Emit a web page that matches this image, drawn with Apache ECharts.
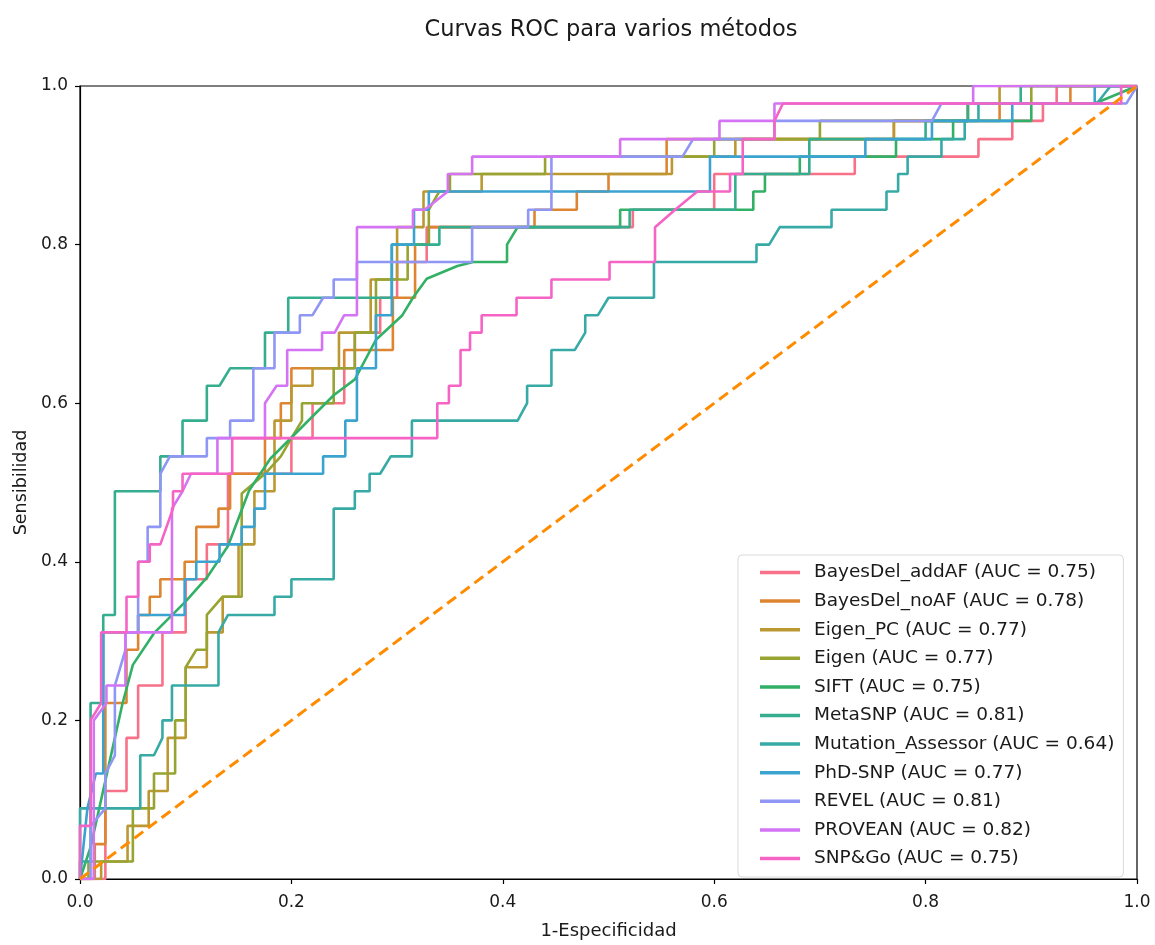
<!DOCTYPE html>
<html>
<head>
<meta charset="utf-8">
<script src="https://cdn.jsdelivr.net/npm/echarts@6/dist/echarts.min.js"></script>
<style>
html,body{margin:0;padding:0;background:#fff;}
#chart{width:1155px;height:945px;}
</style>
</head>
<body>
<div id="chart"></div>
<script>
// ---- data: (fpr, tpr) vertices ----
const methods = ['BayesDel_addAF','BayesDel_noAF','Eigen_PC','Eigen','SIFT','MetaSNP','Mutation_Assessor','PhD-SNP','REVEL','PROVEAN','SNP&Go'];
const aucs = ['0.75','0.78','0.77','0.77','0.75','0.81','0.64','0.77','0.81','0.82','0.75'];
const colors = ['#f77189','#de8532','#bb9832','#97a431','#32b166','#35ad8f','#37aaa6','#3ba3d0','#8f96f4','#d474f4','#f564c4'];

const rocBayesDelAddAF = [[0,0],[0.024,0],[0.024,0.111],[0.044,0.111],[0.044,0.178],[0.055,0.178],[0.055,0.244],[0.078,0.244],[0.078,0.311],[0.1,0.311],[0.1,0.378],[0.12,0.378],[0.12,0.422],[0.14,0.422],[0.14,0.511],[0.2,0.511],[0.2,0.556],[0.22,0.556],[0.22,0.6],[0.25,0.6],[0.25,0.644],[0.26,0.644],[0.26,0.689],[0.284,0.689],[0.284,0.733],[0.3,0.733],[0.3,0.778],[0.328,0.778],[0.328,0.822],[0.523,0.822],[0.523,0.844],[0.6,0.844],[0.6,0.889],[0.733,0.889],[0.733,0.911],[0.85,0.911],[0.85,0.933],[0.882,0.933],[0.882,0.956],[0.911,0.956],[0.911,0.978],[0.924,0.978],[0.924,1],[1,1]];
const rocBayesDelNoAF = [[0,0],[0.014,0],[0.014,0.044],[0.024,0.044],[0.024,0.222],[0.044,0.222],[0.044,0.289],[0.055,0.289],[0.055,0.333],[0.066,0.333],[0.066,0.356],[0.076,0.356],[0.076,0.378],[0.099,0.378],[0.099,0.4],[0.11,0.4],[0.11,0.444],[0.131,0.444],[0.131,0.467],[0.142,0.467],[0.142,0.511],[0.175,0.511],[0.175,0.556],[0.19,0.556],[0.19,0.6],[0.2,0.6],[0.2,0.644],[0.25,0.644],[0.25,0.667],[0.296,0.667],[0.296,0.733],[0.317,0.733],[0.317,0.8],[0.33,0.8],[0.33,0.822],[0.43,0.822],[0.43,0.844],[0.47,0.844],[0.47,0.867],[0.5,0.867],[0.5,0.889],[0.555,0.889],[0.555,0.933],[0.77,0.933],[0.77,0.956],[0.87,0.956],[0.87,0.978],[0.937,0.978],[0.937,1],[1,1]];
const rocEigenPC = [[0,0],[0.02,0],[0.02,0.022],[0.045,0.022],[0.045,0.067],[0.065,0.067],[0.065,0.111],[0.083,0.111],[0.083,0.178],[0.1,0.178],[0.1,0.267],[0.12,0.267],[0.12,0.311],[0.135,0.311],[0.135,0.356],[0.15,0.356],[0.15,0.422],[0.165,0.422],[0.165,0.489],[0.184,0.489],[0.184,0.578],[0.2,0.578],[0.2,0.622],[0.22,0.622],[0.22,0.644],[0.245,0.644],[0.245,0.689],[0.275,0.689],[0.275,0.756],[0.3,0.756],[0.3,0.822],[0.325,0.822],[0.325,0.867],[0.38,0.867],[0.38,0.889],[0.56,0.889],[0.56,0.911],[0.62,0.911],[0.62,0.933],[0.77,0.933],[0.77,0.956],[0.84,0.956],[0.84,0.978],[0.87,0.978],[0.87,1],[1,1]];
const rocEigen = [[0,0],[0.008,0],[0.008,0.022],[0.05,0.022],[0.05,0.089],[0.07,0.089],[0.07,0.133],[0.09,0.133],[0.09,0.2],[0.1,0.2],[0.1,0.267],[0.11,0.289],[0.12,0.289],[0.12,0.333],[0.135,0.356],[0.153,0.356],[0.153,0.486],[0.175,0.511],[0.19,0.533],[0.2,0.556],[0.21,0.578],[0.21,0.6],[0.24,0.6],[0.24,0.644],[0.26,0.644],[0.26,0.689],[0.28,0.689],[0.28,0.756],[0.31,0.756],[0.31,0.8],[0.33,0.8],[0.33,0.844],[0.34,0.867],[0.35,0.867],[0.35,0.889],[0.44,0.889],[0.44,0.911],[0.6,0.911],[0.6,0.933],[0.7,0.933],[0.7,0.956],[0.84,0.956],[0.84,0.978],[0.9,0.978],[0.9,1],[1,1]];
const rocSIFT = [[0,0],[0.01,0.04],[0.02,0.1],[0.03,0.16],[0.04,0.22],[0.05,0.27],[0.07,0.31],[0.1,0.35],[0.12,0.38],[0.14,0.42],[0.16,0.49],[0.18,0.53],[0.21,0.57],[0.24,0.61],[0.26,0.63],[0.28,0.68],[0.305,0.711],[0.315,0.733],[0.328,0.757],[0.357,0.773],[0.372,0.778],[0.404,0.778],[0.404,0.8],[0.414,0.822],[0.511,0.822],[0.511,0.844],[0.637,0.844],[0.637,0.867],[0.648,0.867],[0.648,0.889],[0.681,0.889],[0.681,0.911],[0.772,0.911],[0.772,0.933],[0.826,0.933],[0.826,0.956],[0.9,0.956],[0.9,0.978],[0.96,0.978],[1,1]];
const rocMetaSNP = [[0,0],[0,0.022],[0.01,0.022],[0.01,0.222],[0.022,0.222],[0.022,0.333],[0.033,0.333],[0.033,0.489],[0.076,0.489],[0.076,0.533],[0.097,0.533],[0.097,0.578],[0.12,0.578],[0.12,0.622],[0.132,0.622],[0.142,0.644],[0.175,0.644],[0.175,0.689],[0.197,0.689],[0.197,0.733],[0.262,0.733],[0.295,0.733],[0.295,0.8],[0.34,0.8],[0.34,0.822],[0.52,0.822],[0.52,0.844],[0.62,0.844],[0.62,0.889],[0.69,0.889],[0.69,0.933],[0.8,0.933],[0.8,0.956],[0.84,0.956],[0.84,0.978],[0.89,0.978],[0.89,1],[1,1]];
const rocMutationAssessor = [[0,0],[0,0.089],[0.057,0.089],[0.057,0.156],[0.07,0.156],[0.078,0.178],[0.078,0.2],[0.087,0.2],[0.087,0.244],[0.131,0.244],[0.131,0.311],[0.14,0.333],[0.184,0.333],[0.184,0.356],[0.2,0.356],[0.2,0.378],[0.24,0.378],[0.24,0.467],[0.26,0.467],[0.26,0.489],[0.274,0.489],[0.274,0.511],[0.284,0.511],[0.294,0.533],[0.314,0.533],[0.314,0.578],[0.414,0.578],[0.423,0.6],[0.423,0.622],[0.446,0.622],[0.446,0.667],[0.468,0.667],[0.478,0.689],[0.478,0.711],[0.49,0.711],[0.5,0.733],[0.543,0.733],[0.543,0.778],[0.64,0.778],[0.64,0.8],[0.652,0.8],[0.662,0.822],[0.711,0.822],[0.711,0.844],[0.763,0.844],[0.763,0.867],[0.774,0.867],[0.774,0.889],[0.783,0.889],[0.783,0.911],[0.815,0.911],[0.815,0.933],[0.837,0.933],[0.837,0.956],[0.85,0.956],[0.85,0.978],[0.962,0.978],[0.975,1],[1,1]];
const rocPhDSNP = [[0,0],[0.007,0.089],[0.015,0.133],[0.022,0.133],[0.022,0.311],[0.055,0.311],[0.055,0.333],[0.099,0.333],[0.099,0.378],[0.11,0.378],[0.11,0.4],[0.132,0.4],[0.132,0.422],[0.153,0.422],[0.153,0.444],[0.165,0.444],[0.165,0.467],[0.175,0.467],[0.175,0.511],[0.23,0.511],[0.23,0.533],[0.251,0.533],[0.251,0.578],[0.262,0.578],[0.262,0.644],[0.28,0.644],[0.28,0.711],[0.295,0.711],[0.295,0.8],[0.316,0.8],[0.316,0.844],[0.33,0.844],[0.33,0.867],[0.596,0.867],[0.596,0.911],[0.743,0.911],[0.743,0.933],[0.806,0.933],[0.806,0.956],[0.882,0.956],[0.882,0.978],[0.96,0.978],[0.96,1],[1,1]];
const rocREVEL = [[0,0],[0.01,0],[0.01,0.067],[0.024,0.089],[0.024,0.133],[0.033,0.156],[0.033,0.244],[0.043,0.289],[0.043,0.311],[0.055,0.311],[0.055,0.4],[0.064,0.4],[0.064,0.444],[0.076,0.444],[0.076,0.511],[0.085,0.533],[0.12,0.533],[0.12,0.556],[0.142,0.556],[0.142,0.578],[0.164,0.578],[0.164,0.644],[0.184,0.644],[0.184,0.689],[0.208,0.689],[0.208,0.711],[0.22,0.711],[0.23,0.733],[0.24,0.733],[0.24,0.756],[0.262,0.756],[0.262,0.778],[0.371,0.778],[0.371,0.822],[0.424,0.822],[0.424,0.844],[0.446,0.844],[0.446,0.911],[0.57,0.911],[0.58,0.933],[0.657,0.933],[0.657,0.956],[0.806,0.956],[0.815,0.978],[0.99,0.978],[1,1]];
const rocPROVEAN = [[0,0],[0.013,0],[0.013,0.2],[0.025,0.222],[0.025,0.244],[0.043,0.244],[0.043,0.311],[0.087,0.311],[0.087,0.467],[0.097,0.489],[0.105,0.511],[0.13,0.511],[0.13,0.556],[0.175,0.556],[0.175,0.6],[0.186,0.622],[0.196,0.622],[0.196,0.667],[0.229,0.667],[0.229,0.689],[0.241,0.689],[0.25,0.711],[0.262,0.711],[0.262,0.822],[0.315,0.822],[0.315,0.844],[0.326,0.844],[0.348,0.867],[0.348,0.889],[0.371,0.889],[0.371,0.911],[0.511,0.911],[0.511,0.933],[0.605,0.933],[0.605,0.956],[0.657,0.956],[0.657,0.978],[0.845,0.978],[0.845,1],[1,1]];
const rocSNPGo = [[0,0],[0,0.067],[0.01,0.067],[0.01,0.2],[0.02,0.222],[0.02,0.311],[0.044,0.311],[0.044,0.356],[0.055,0.356],[0.055,0.4],[0.066,0.4],[0.066,0.422],[0.076,0.422],[0.088,0.467],[0.088,0.489],[0.097,0.489],[0.097,0.511],[0.144,0.511],[0.144,0.556],[0.338,0.556],[0.338,0.6],[0.349,0.6],[0.349,0.622],[0.36,0.622],[0.36,0.667],[0.369,0.667],[0.369,0.689],[0.38,0.689],[0.38,0.711],[0.413,0.711],[0.413,0.733],[0.446,0.733],[0.446,0.756],[0.501,0.756],[0.501,0.778],[0.544,0.778],[0.544,0.822],[0.563,0.844],[0.584,0.867],[0.615,0.867],[0.615,0.889],[0.627,0.889],[0.627,0.933],[0.657,0.933],[0.657,0.956],[0.665,0.978],[0.985,0.978],[0.985,1],[1,1]];
const rocChance = [[0,0],[1,1]];

const curves = [rocBayesDelAddAF,rocBayesDelNoAF,rocEigenPC,rocEigen,rocSIFT,rocMetaSNP,rocMutationAssessor,rocPhDSNP,rocREVEL,rocPROVEAN,rocSNPGo];

const FONT = 'DejaVu Sans';
const names = methods.map((m,i)=> m + ' (AUC = ' + aucs[i] + ')');

const series = curves.map((c,i)=>({
  name: names[i],
  type: 'line',
  data: c,
  showSymbol: false,
  symbol: 'none',
  lineStyle: {color: colors[i], width: 2.6},
  itemStyle: {color: colors[i]},
  animation: false,
  z: 2 + i
}));
series.push({
  name: 'chance',
  type: 'line',
  data: rocChance,
  showSymbol: false,
  symbol: 'none',
  lineStyle: {color: '#ff8c00', width: 3, type: [11, 6]},
  itemStyle: {color: '#ff8c00'},
  animation: false,
  z: 20
});

const chart = echarts.init(document.getElementById('chart'), null, {renderer: 'canvas'});
chart.setOption({
  backgroundColor: '#ffffff',
  animation: false,
  title: {
    text: 'Curvas ROC para varios métodos',
    left: 606, top: 14, textAlign: 'center',
    textStyle: {fontFamily: FONT, fontSize: 22.5, fontWeight: 'normal', color: '#1a1a1a'}
  },
  grid: {left: 80, right: 18, top: 86, bottom: 59, show: true, borderColor: '#000', borderWidth: 1.2, backgroundColor: 'transparent'},
  legend: {
    data: names.map((n,i)=>({name: n, icon: 'rect', itemStyle: {color: colors[i]}})),
    orient: 'vertical',
    left: 738, top: 555,
    padding: [8, 9, 9, 22],
    itemWidth: 40, itemHeight: 3.5, itemGap: 9.6,
    backgroundColor: 'rgba(255,255,255,0.85)',
    borderColor: '#d9d9d9', borderWidth: 1, borderRadius: 4,
    textStyle: {fontFamily: FONT, fontSize: 18.5, color: '#1a1a1a', padding: [0,0,0,9]},
    selectedMode: false
  },
  xAxis: {
    type: 'value', min: 0, max: 1, interval: 0.2,
    name: '1-Especificidad', nameLocation: 'middle', nameGap: 43,
    nameTextStyle: {fontFamily: FONT, fontSize: 18, color: '#1a1a1a'},
    axisLine: {show: true, lineStyle: {color: '#000', width: 1.2}},
    axisTick: {show: true, length: 5, lineStyle: {color: '#000', width: 1.2}},
    axisLabel: {fontFamily: FONT, fontSize: 17, color: '#1a1a1a', margin: 15, formatter: v => v.toFixed(1)},
    splitLine: {show: false}
  },
  yAxis: {
    type: 'value', min: 0, max: 1, interval: 0.2,
    name: 'Sensibilidad', nameLocation: 'middle', nameGap: 50,
    nameTextStyle: {fontFamily: FONT, fontSize: 17.5, color: '#1a1a1a'},
    axisLine: {show: true, lineStyle: {color: '#000', width: 1.2}},
    axisTick: {show: true, length: 5, lineStyle: {color: '#000', width: 1.2}},
    axisLabel: {fontFamily: FONT, fontSize: 17, color: '#1a1a1a', margin: 12, formatter: v => v.toFixed(1)},
    splitLine: {show: false}
  },
  series: series
});
</script>
</body>
</html>
